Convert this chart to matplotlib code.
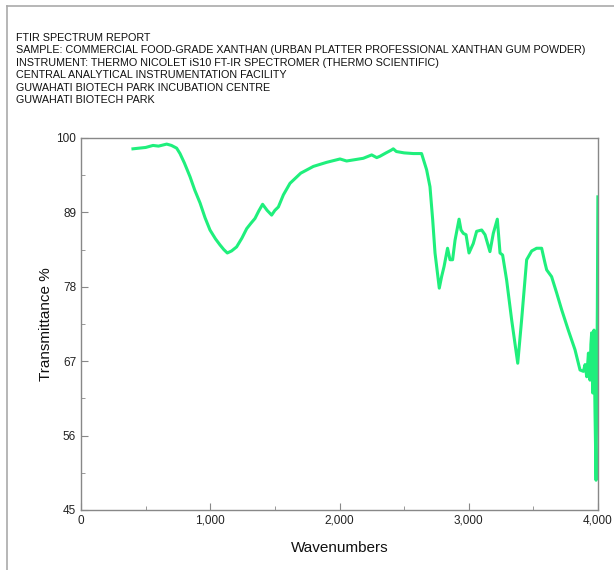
import matplotlib
matplotlib.use("Agg")
import matplotlib.pyplot as plt
from matplotlib.ticker import FuncFormatter, MultipleLocator, FixedLocator
from matplotlib.lines import Line2D

header_lines = [
    "FTIR SPECTRUM REPORT",
    "SAMPLE: COMMERCIAL FOOD-GRADE XANTHAN (URBAN PLATTER PROFESSIONAL XANTHAN GUM POWDER)",
    "INSTRUMENT: THERMO NICOLET iS10 FT-IR SPECTROMER (THERMO SCIENTIFIC)",
    "CENTRAL ANALYTICAL INSTRUMENTATION FACILITY",
    "GUWAHATI BIOTECH PARK INCUBATION CENTRE",
    "GUWAHATI BIOTECH PARK",
]

wavenumbers = [
    402, 450, 500, 557, 600, 663, 700, 740, 766, 800, 843, 880, 921, 960, 998,
    1040, 1075, 1105, 1132, 1165, 1204, 1245, 1282, 1315, 1346, 1375, 1405, 1440,
    1475, 1500, 1527, 1566, 1617, 1700, 1798, 1900, 2004, 2055, 2120, 2184, 2249,
    2288, 2313, 2360, 2400, 2416, 2440, 2500, 2571, 2635, 2674, 2700, 2721, 2739,
    2772, 2790, 2809, 2836, 2855, 2875, 2894, 2925, 2940, 2958, 2979, 3002, 3035,
    3061, 3100, 3126, 3164, 3190, 3221, 3242, 3262, 3293, 3332, 3379, 3409, 3448,
    3487, 3525, 3564, 3590, 3603, 3641, 3680, 3719, 3770, 3822, 3861, 3887, 3900,
    3913, 3926, 3932, 3938, 3945, 3951, 3959, 3964, 3969, 3977, 3985, 3990, 3995, 3999,
]
transmittance = [
    98.4, 98.5, 98.6, 98.9, 98.8, 99.1, 98.9, 98.5, 97.7, 96.3, 94.3, 92.3, 90.4, 88.2,
    86.4, 85.1, 84.2, 83.5, 83.0, 83.3, 83.9, 85.2, 86.6, 87.4, 88.1, 89.2, 90.2, 89.3,
    88.6, 89.3, 89.8, 91.6, 93.3, 94.8, 95.8, 96.4, 96.9, 96.6, 96.8, 97.0, 97.5,
    97.1, 97.3, 97.8, 98.2, 98.4, 98.0, 97.8, 97.7, 97.7, 95.3, 92.8, 87.9, 83.0,
    77.8, 79.5, 81.0, 83.7, 82.0, 82.0, 84.9, 88.0, 86.4, 85.9, 85.7, 83.0, 84.4,
    86.2, 86.4, 85.7, 83.2, 85.9, 88.0, 83.0, 82.7, 79.0, 73.1, 66.7, 73.1, 82.0,
    83.3, 83.7, 83.7, 81.5, 80.5, 79.5, 77.1, 74.6, 71.6, 68.7, 65.7, 65.5, 66.5,
    64.7, 68.2, 65.0, 64.2, 69.5, 71.2, 62.3, 70.0, 71.6, 59.3, 49.4, 62.0, 75.0, 91.3,
]

line_color = "#1FEF7C"

fig = plt.figure(figsize=(6.14, 5.70), dpi=100)
fig.patch.set_facecolor("white")

# page frame lines (top and left)
fig.add_artist(Line2D([7/614, 1.0], [1 - 6/570, 1 - 6/570], transform=fig.transFigure,
                      color="#aaaaaa", lw=1.2))
fig.add_artist(Line2D([7/614, 7/614], [0.0, 1 - 6/570], transform=fig.transFigure,
                      color="#aaaaaa", lw=1.2))

hdr_font = ["Liberation Sans", "DejaVu Sans"]
y0 = 38
for i, s in enumerate(header_lines):
    fig.text(16/614, 1 - (y0 + i * 12.4)/570, s, ha="left", va="center",
             fontsize=7.75, family=hdr_font, color="#111111")

ax = fig.add_axes([81/614, 1 - 510/570, (598 - 81)/614, (510 - 138)/570])
ax.plot(wavenumbers, transmittance, color=line_color, lw=2.2, solid_joinstyle="round")
ax.set_xlim(0, 4000)
ax.set_ylim(45, 100)

ax.xaxis.set_major_locator(MultipleLocator(1000))
ax.xaxis.set_minor_locator(MultipleLocator(500))
ax.yaxis.set_major_locator(FixedLocator([45, 56, 67, 78, 89, 100]))
ax.yaxis.set_minor_locator(FixedLocator([50.5, 61.5, 72.5, 83.5, 94.5]))
ax.xaxis.set_major_formatter(FuncFormatter(lambda v, p: f"{int(v):,}"))

ax.tick_params(which="major", direction="in", length=5, width=0.8, color="#888888",
               labelsize=8.5, labelcolor="#222222")
ax.tick_params(which="minor", direction="in", length=3, width=0.6, color="#888888")
for t in ax.get_xticklabels() + ax.get_yticklabels():
    t.set_family(hdr_font)
for sp in ax.spines.values():
    sp.set_color("#888888")
    sp.set_linewidth(1.0)

ax.set_xlabel("Wavenumbers", fontsize=11, family=hdr_font, color="#111111", labelpad=10)
ax.set_ylabel("Transmittance %", fontsize=11, family=hdr_font, color="#111111", labelpad=2)

fig.savefig("out.png", dpi=100, facecolor="white")
